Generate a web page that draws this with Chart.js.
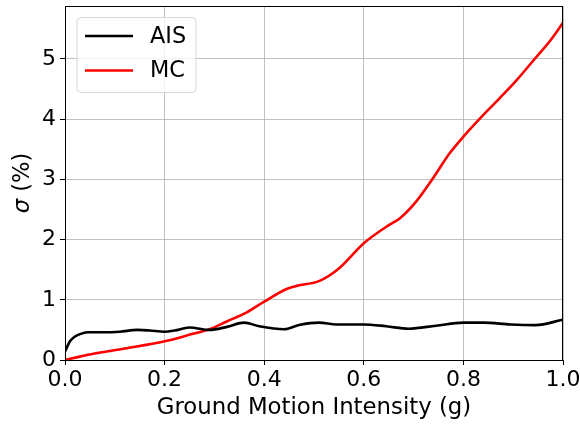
<!DOCTYPE html>
<html>
<head>
<meta charset="utf-8">
<script src="https://cdn.jsdelivr.net/npm/chart.js@4/dist/chart.umd.min.js"></script>
<style>
html,body{margin:0;padding:0;background:#fff;}
#wrap{width:580px;height:426px;position:relative;}
</style>
</head>
<body>
<div id="wrap"><canvas id="c" width="580" height="426"></canvas></div>
<script>
const aisX = [0, 0.01, 0.02, 0.03, 0.045, 0.075, 0.11, 0.145, 0.17, 0.2, 0.22, 0.25, 0.29, 0.325, 0.36, 0.39, 0.44, 0.47, 0.51, 0.545, 0.6, 0.645, 0.69, 0.745, 0.8, 0.84, 0.895, 0.945, 1.0];
const aisY = [0.14, 0.31, 0.39, 0.43, 0.46, 0.46, 0.47, 0.50, 0.49, 0.47, 0.49, 0.54, 0.50, 0.55, 0.62, 0.56, 0.51, 0.58, 0.62, 0.59, 0.59, 0.56, 0.52, 0.57, 0.62, 0.62, 0.59, 0.58, 0.67];
const mcX = [0, 0.03, 0.055, 0.12, 0.2, 0.255, 0.29, 0.325, 0.365, 0.4, 0.445, 0.47, 0.51, 0.55, 0.6, 0.65, 0.672, 0.705, 0.739, 0.772, 0.8, 0.833, 0.873, 0.906, 0.943, 0.973, 1.0];
const mcY = [0, 0.056, 0.10, 0.19, 0.31, 0.43, 0.51, 0.64, 0.79, 0.97, 1.18, 1.24, 1.31, 1.52, 1.94, 2.24, 2.35, 2.63, 3.02, 3.43, 3.71, 4.01, 4.35, 4.64, 5.0, 5.29, 5.60];
const xTickValues = [0, 0.2, 0.4, 0.6, 0.8, 1.0];
const xTickLabels = ['0.0', '0.2', '0.4', '0.6', '0.8', '1.0'];
const yTickValues = [0, 1, 2, 3, 4, 5];
const yTickLabels = ['0', '1', '2', '3', '4', '5'];
const seriesNames = ['AIS', 'MC'];
const seriesColors = ['#000000', '#ff0000'];
const xTitle = 'Ground Motion Intensity (g)';
const yTitleSymbol = 'σ';
const yTitleRest = ' (%)';

const FONT = 'DejaVu Sans';

const framePlugin = {
  id: 'frame',
  afterDraw(chart) {
    const {ctx, chartArea: a} = chart;
    ctx.save();
    ctx.strokeStyle = '#000';
    ctx.lineWidth = 1;
    ctx.strokeRect(Math.round(a.left) + 0.5, Math.round(a.top) + 0.5, Math.round(a.right - a.left) - 1, Math.round(a.bottom - a.top));
    ctx.restore();
  }
};

const yTitlePlugin = {
  id: 'yTitle',
  afterDraw(chart) {
    const {ctx, chartArea: a} = chart;
    ctx.save();
    ctx.translate(23, (a.top + a.bottom) / 2);
    ctx.rotate(-Math.PI / 2);
    ctx.textBaseline = 'middle';
    ctx.fillStyle = '#000';
    const f1 = 'italic 22.6px "' + FONT + '"';
    const f2 = '22.6px "' + FONT + '"';
    ctx.font = f1;
    const w1 = ctx.measureText(yTitleSymbol).width;
    ctx.font = f2;
    const w2 = ctx.measureText(yTitleRest).width;
    const x0 = -(w1 + w2) / 2;
    ctx.textAlign = 'left';
    ctx.font = f1;
    ctx.fillText(yTitleSymbol, x0, 0);
    ctx.font = f2;
    ctx.fillText(yTitleRest, x0 + w1, 0);
    ctx.restore();
  }
};

const legendPlugin = {
  id: 'mplLegend',
  afterDraw(chart) {
    const {ctx, chartArea: a} = chart;
    const bx = a.left + 12, by = a.top + 11.5, bw = 119, bh = 75, r = 4;
    ctx.save();
    ctx.beginPath();
    ctx.moveTo(bx + r, by);
    ctx.arcTo(bx + bw, by, bx + bw, by + bh, r);
    ctx.arcTo(bx + bw, by + bh, bx, by + bh, r);
    ctx.arcTo(bx, by + bh, bx, by, r);
    ctx.arcTo(bx, by, bx + bw, by, r);
    ctx.closePath();
    ctx.fillStyle = 'rgba(255,255,255,0.8)';
    ctx.fill();
    ctx.strokeStyle = '#d6d6d6';
    ctx.lineWidth = 1;
    ctx.stroke();
    ctx.font = '22.4px "' + FONT + '"';
    ctx.textBaseline = 'middle';
    ctx.textAlign = 'left';
    chart.data.datasets.forEach((ds, i) => {
      const y = by + 18.5 + i * 34.5;
      ctx.beginPath();
      ctx.moveTo(bx + 8, y);
      ctx.lineTo(bx + 56, y);
      ctx.strokeStyle = ds.borderColor;
      ctx.lineWidth = 2.6;
      ctx.stroke();
      ctx.fillStyle = '#000';
      ctx.fillText(ds.label, bx + 73, y + 1);
    });
    ctx.restore();
  }
};

new Chart(document.getElementById('c'), {
  type: 'line',
  data: {
    datasets: [
      {
        label: seriesNames[0],
        data: aisX.map((x, i) => ({x: x, y: aisY[i]})),
        borderColor: seriesColors[0],
        backgroundColor: seriesColors[0],
        borderWidth: 2.6,
        pointRadius: 0,
        cubicInterpolationMode: 'monotone',
        fill: false
      },
      {
        label: seriesNames[1],
        data: mcX.map((x, i) => ({x: x, y: mcY[i]})),
        borderColor: seriesColors[1],
        backgroundColor: seriesColors[1],
        borderWidth: 2.6,
        pointRadius: 0,
        cubicInterpolationMode: 'monotone',
        fill: false
      }
    ]
  },
  options: {
    responsive: false,
    animation: false,
    events: [],
    layout: {padding: {left: 0, right: 17, top: 6, bottom: 0}},
    plugins: {
      legend: {display: false},
      tooltip: {enabled: false},
      title: {display: false}
    },
    scales: {
      x: {
        type: 'linear',
        min: 0,
        max: 1,
        afterBuildTicks(scale) { scale.ticks = xTickValues.map(v => ({value: v})); },
        afterFit(scale) { scale.height = 66; scale.paddingLeft = 0; scale.paddingRight = 0; },
        ticks: {
          callback: (v) => { const i = xTickValues.findIndex(t => Math.abs(t - v) < 1e-9); return i >= 0 ? xTickLabels[i] : ''; },
          font: {family: FONT, size: 22},
          color: '#000',
          padding: 2,
          maxRotation: 0,
          autoSkip: false
        },
        grid: {color: '#b0b0b0', lineWidth: 0.8, tickLength: 5, tickColor: '#000', tickWidth: 1},
        border: {color: '#000', width: 1},
        title: {
          display: true,
          text: xTitle,
          font: {family: FONT, size: 22.8},
          color: '#000',
          padding: {top: 0, bottom: 4}
        }
      },
      y: {
        type: 'linear',
        min: 0,
        max: 5.88,
        afterBuildTicks(scale) { scale.ticks = yTickValues.map(v => ({value: v})); },
        afterFit(scale) { scale.width = 65; scale.paddingTop = 0; scale.paddingBottom = 0; },
        ticks: {
          callback: (v) => { const i = yTickValues.findIndex(t => Math.abs(t - v) < 1e-9); return i >= 0 ? yTickLabels[i] : ''; },
          font: {family: FONT, size: 22},
          color: '#000',
          padding: 4,
          autoSkip: false
        },
        grid: {color: '#b0b0b0', lineWidth: 0.8, tickLength: 5, tickColor: '#000', tickWidth: 1},
        border: {color: '#000', width: 1},
        title: {display: false}
      }
    }
  },
  plugins: [framePlugin, yTitlePlugin, legendPlugin]
});
</script>
</body>
</html>
